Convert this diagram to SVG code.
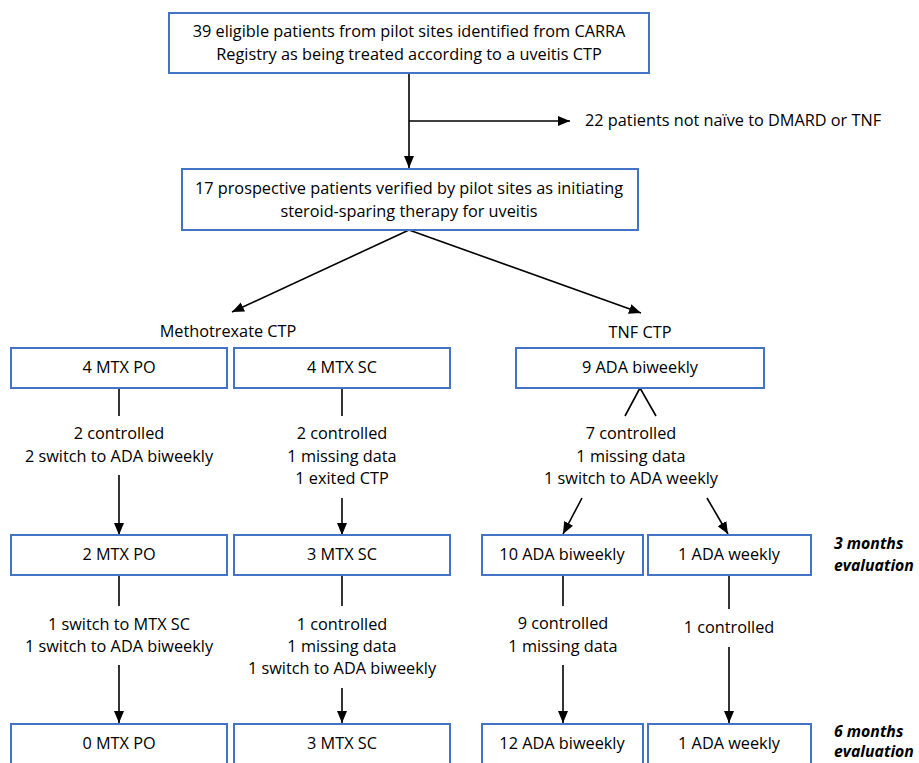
<svg xmlns="http://www.w3.org/2000/svg" width="919" height="763" viewBox="0 0 919 763">
<style>
  .box { fill: #ffffff; stroke: #4472C4; stroke-width: 2; }
  text { font-family: "Open Sans", "Liberation Sans", Arial, sans-serif; font-size: 16.3px; fill: #000; text-anchor: middle; }
  .lbl { text-anchor: start; }
  .eval { font-weight: bold; font-style: italic; text-anchor: start; font-size: 15.8px; }
  .ln { stroke: #000; stroke-width: 1.6; fill: none; }
</style>
<defs>
  <marker id="ah" markerUnits="userSpaceOnUse" markerWidth="12" markerHeight="12" viewBox="0 0 12 12" refX="12" refY="6" orient="auto">
    <path d="M0,1 L12,6 L0,11 Z" fill="#000"/>
  </marker>
</defs>
<rect width="919" height="763" fill="#fff"/>

<g id="connectors">
  <line class="ln" x1="409" y1="73" x2="409" y2="168" marker-end="url(#ah)"/>
  <line class="ln" x1="409" y1="121" x2="570" y2="121" marker-end="url(#ah)"/>
  <line class="ln" x1="409" y1="230" x2="232" y2="312" marker-end="url(#ah)"/>
  <line class="ln" x1="409" y1="230" x2="641" y2="313" marker-end="url(#ah)"/>
  <line class="ln" x1="119" y1="388" x2="119" y2="416"/>
  <line class="ln" x1="119" y1="475" x2="119" y2="535" marker-end="url(#ah)"/>
  <line class="ln" x1="119" y1="576" x2="119" y2="606"/>
  <line class="ln" x1="119" y1="665" x2="119" y2="723" marker-end="url(#ah)"/>
  <line class="ln" x1="342" y1="388" x2="342" y2="416"/>
  <line class="ln" x1="342" y1="498" x2="342" y2="535" marker-end="url(#ah)"/>
  <line class="ln" x1="342" y1="576" x2="342" y2="606"/>
  <line class="ln" x1="342" y1="688" x2="342" y2="723" marker-end="url(#ah)"/>
  <polyline class="ln" points="625,416 640,388 656,416"/>
  <line class="ln" x1="582" y1="498" x2="563" y2="534" marker-end="url(#ah)"/>
  <line class="ln" x1="707" y1="498" x2="728" y2="534" marker-end="url(#ah)"/>
  <line class="ln" x1="563" y1="575" x2="563" y2="606"/>
  <line class="ln" x1="563" y1="665" x2="563" y2="723" marker-end="url(#ah)"/>
  <line class="ln" x1="729" y1="575" x2="729" y2="609"/>
  <line class="ln" x1="729" y1="647" x2="729" y2="723" marker-end="url(#ah)"/>
</g>

<g id="n_top">
  <rect class="box" x="169" y="13" width="480" height="60"/>
  <text x="409" y="37">39 eligible patients from pilot sites identified from CARRA</text>
  <text x="409" y="60">Registry as being treated according to a uveitis CTP</text>
</g>
<g id="n_excluded">
  <text class="lbl" x="585" y="126">22 patients not naïve to DMARD or TNF</text>
</g>
<g id="n_prospective">
  <rect class="box" x="182" y="169" width="456" height="61"/>
  <text x="409" y="194">17 prospective patients verified by pilot sites as initiating</text>
  <text x="409" y="217">steroid-sparing therapy for uveitis</text>
</g>
<g id="n_mtx_label"><text x="228" y="337">Methotrexate CTP</text></g>
<g id="n_tnf_label"><text x="640" y="338">TNF CTP</text></g>

<g id="n_mtxpo0"><rect class="box" x="11" y="348" width="216" height="40"/><text x="119" y="373">4 MTX PO</text></g>
<g id="n_mtxsc0"><rect class="box" x="234" y="348" width="216" height="40"/><text x="342" y="373">4 MTX SC</text></g>
<g id="n_ada0"><rect class="box" x="516" y="348" width="248" height="40"/><text x="640" y="373">9 ADA biweekly</text></g>

<g id="l_mtxpo1"><text x="119" y="439">2 controlled</text><text x="119" y="462">2 switch to ADA biweekly</text></g>
<g id="l_mtxsc1"><text x="342" y="439">2 controlled</text><text x="342" y="462">1 missing data</text><text x="342" y="484">1 exited CTP</text></g>
<g id="l_ada1"><text x="631" y="439">7 controlled</text><text x="631" y="462">1 missing data</text><text x="631" y="484">1 switch to ADA weekly</text></g>

<g id="n_mtxpo3"><rect class="box" x="11" y="535" width="216" height="40"/><text x="119" y="560">2 MTX PO</text></g>
<g id="n_mtxsc3"><rect class="box" x="234" y="535" width="216" height="40"/><text x="342" y="560">3 MTX SC</text></g>
<g id="n_adab3"><rect class="box" x="482" y="535" width="161" height="40"/><text x="562" y="560">10 ADA biweekly</text></g>
<g id="n_adaw3"><rect class="box" x="648" y="535" width="163" height="40"/><text x="729" y="560">1 ADA weekly</text></g>
<g id="n_eval3"><text class="eval" x="834" y="549">3 months</text><text class="eval" x="834" y="571">evaluation</text></g>

<g id="l_mtxpo2"><text x="119" y="630">1 switch to MTX SC</text><text x="119" y="652">1 switch to ADA biweekly</text></g>
<g id="l_mtxsc2"><text x="342" y="630">1 controlled</text><text x="342" y="652">1 missing data</text><text x="342" y="674">1 switch to ADA biweekly</text></g>
<g id="l_adab2"><text x="563" y="629">9 controlled</text><text x="563" y="652">1 missing data</text></g>
<g id="l_adaw2"><text x="729" y="633">1 controlled</text></g>

<g id="n_mtxpo6"><rect class="box" x="11" y="724" width="216" height="40"/><text x="119" y="749">0 MTX PO</text></g>
<g id="n_mtxsc6"><rect class="box" x="234" y="724" width="216" height="40"/><text x="342" y="749">3 MTX SC</text></g>
<g id="n_adab6"><rect class="box" x="482" y="724" width="161" height="40"/><text x="562" y="749">12 ADA biweekly</text></g>
<g id="n_adaw6"><rect class="box" x="648" y="724" width="163" height="40"/><text x="729" y="749">1 ADA weekly</text></g>
<g id="n_eval6"><text class="eval" x="834" y="737">6 months</text><text class="eval" x="834" y="757">evaluation</text></g>
</svg>
